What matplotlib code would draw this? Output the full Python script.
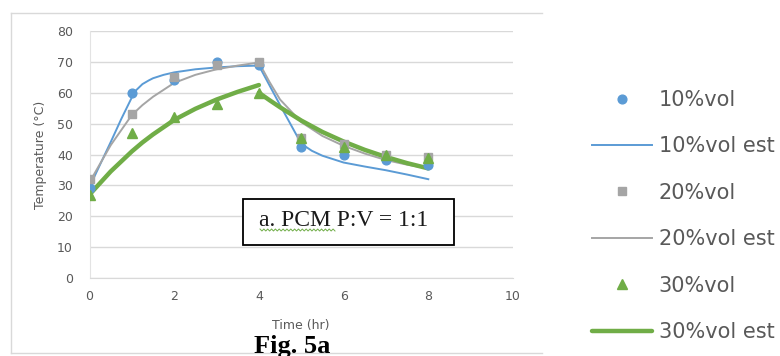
import matplotlib
matplotlib.use('Agg')
from matplotlib import pyplot as plt
from matplotlib.lines import Line2D
from matplotlib.patches import Rectangle
import numpy as np

# measured temperatures (deg C) at each hour
time = [0, 1, 2, 3, 4, 5, 6, 7, 8]
vol10 = [29, 60, 64, 70, 69, 42.5, 40, 38.2, 36.6]
vol20 = [32, 53, 65, 69, 70, 45.5, 43.5, 40, 39.2]
vol30 = [27, 47, 52, 56.5, 60, 45.5, 42.5, 40, 39]

# estimated curves, heating (0-4 hr) and cooling (4-8 hr)
t10_heat = [0, 0.5, 0.75, 1, 1.1, 1.25, 1.4, 1.5, 1.75, 2, 2.5, 3, 3.5, 4]
est10_heat = [29.5, 44, 51.5, 58.5, 60.8, 62.8, 64.0, 64.7, 65.8, 66.6, 67.6, 68.2, 68.6, 68.8]
t10_cool = [4, 4.5, 5, 5.25, 5.5, 6, 6.5, 7, 7.5, 8]
est10_cool = [68.8, 56, 43.5, 41.2, 39.6, 37.4, 36.1, 34.9, 33.5, 32]

t_heat = [0, 0.5, 1, 1.25, 1.5, 2, 2.5, 3, 3.5, 4]
t_cool = [4, 4.25, 4.5, 5, 5.5, 6, 6.5, 7, 7.5, 8]
est20_heat = [31, 43, 52.8, 56, 58.7, 63.2, 65.8, 67.6, 68.8, 69.8]
est20_cool = [69.8, 63.5, 57.8, 50.5, 46, 42.8, 40.3, 38.2, 36.7, 35.5]
est30_heat = [27, 34.5, 41, 43.9, 46.5, 51.2, 54.8, 57.8, 60.3, 62.5]
est30_cool = [60, 57.6, 55.3, 51, 47.3, 44.2, 41.5, 39.2, 37.2, 35.5]

blue = '#5B9BD5'
grey = '#A5A5A5'
green = '#70AD47'
txt = '#595959'

plt.rcParams['font.family'] = ['DejaVu Sans']

fig = plt.figure(figsize=(7.8, 3.56), dpi=100)

# chart frame (left, top, bottom edges)
W, H = 780., 356.
fx = lambda px: px / W
fy = lambda py: 1 - py / H
frame_c = '#D9D9D9'
fig.add_artist(Line2D([fx(11), fx(11)], [fy(13), fy(353)], color=frame_c, lw=1))
fig.add_artist(Line2D([fx(11), fx(542)], [fy(13), fy(13)], color=frame_c, lw=1))
fig.add_artist(Line2D([fx(11), fx(542)], [fy(353), fy(353)], color=frame_c, lw=1))

ax = fig.add_axes([fx(89.5), fy(278), fx(513) - fx(89.5), fy(31) - fy(278)])

ax.plot(time, vol10, 'o', color=blue, ms=6.3, label='10%vol', zorder=4)
ax.plot(t10_heat + t10_cool[1:], est10_heat + est10_cool[1:], color=blue, lw=1.4,
        label='10%vol est', zorder=3)
ax.plot(time, vol20, 's', color=grey, ms=6, label='20%vol', zorder=4)
ax.plot(t_heat + t_cool[1:], est20_heat + est20_cool[1:], color=grey, lw=1.4,
        label='20%vol est', zorder=3)
ax.plot(time, vol30, '^', color=green, ms=7, label='30%vol', zorder=5)
ax.plot(t_heat, est30_heat, color=green, lw=3.2, solid_capstyle='round',
        label='30%vol est', zorder=3)
ax.plot(t_cool, est30_cool, color=green, lw=3.2, solid_capstyle='round', zorder=3)

ax.set_xlim(0, 10)
ax.set_ylim(0, 80)
ax.set_xticks(range(0, 11, 2))
ax.set_yticks(range(0, 81, 10))
ax.grid(axis='y', color='#D9D9D9', lw=1)
ax.set_axisbelow(True)
for s in ['top', 'right']:
    ax.spines[s].set_visible(False)
ax.spines['left'].set_color('#E3E3E3')
ax.spines['bottom'].set_color('#D9D9D9')
ax.tick_params(length=0, labelsize=9, colors=txt, pad=9)
ax.tick_params(axis='y', pad=12)
ax.set_xlabel('Time (hr)', fontsize=9, color=txt, labelpad=11)
ax.set_ylabel('Temperature (\u00b0C)', fontsize=9, color=txt, labelpad=7)

# annotation box
fig.add_artist(Rectangle((fx(243), fy(245)), fx(454) - fx(243), fy(199) - fy(245),
                         transform=fig.transFigure, fc='white', ec='black', lw=1.3,
                         zorder=6))
fig.text(fx(259), fy(221), 'a. PCM P:V = 1:1', fontsize=17,
         family='Liberation Serif', color='#1a1a1a', ha='left', va='center', zorder=7)
# spell-check squiggle under "a. PCM"
wx = np.linspace(260, 335, 40)
wy = 230 + 1.0 * np.where(np.arange(40) % 2 == 0, -1, 1)
fig.add_artist(Line2D(wx / W, 1 - wy / H, color=green, lw=0.7, zorder=8))

fig.text(fx(292), fy(346), 'Fig. 5a', family='Liberation Serif', weight='bold',
         fontsize=19, ha='center', va='center', color='black')

handles, labels = ax.get_legend_handles_labels()
leg = fig.legend(handles, labels, loc='center left', bbox_to_anchor=(fx(592), fy(216)),
                 frameon=False, fontsize=15, labelcolor=txt, handlelength=2.9,
                 handletextpad=0.3, labelspacing=1.27, borderpad=0, borderaxespad=0)

fig.savefig('out.png', dpi=100)
